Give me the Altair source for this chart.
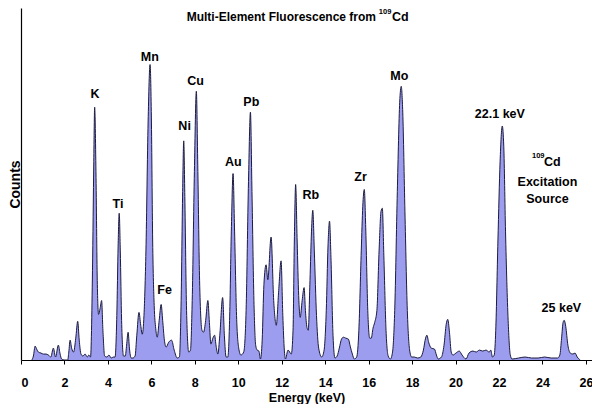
import altair as alt
import pandas as pd

# spectrum outline: energy (keV) and counts (arbitrary)
energy = [
    0.50, 0.57, 0.65, 0.72, 0.80, 0.92, 1.03, 1.15, 1.26, 1.37, 1.49, 1.59, 1.72, 1.80, 1.87, 1.98,
    2.15, 2.20, 2.26, 2.33, 2.42, 2.52, 2.61, 2.68, 2.76, 2.85, 2.95, 3.05, 3.12, 3.20,
    3.29, 3.35, 3.39, 3.45, 3.51, 3.57, 3.64, 3.71, 3.77, 3.85, 3.95, 4.05, 4.15, 4.25,
    4.33, 4.41, 4.47, 4.52, 4.57, 4.63, 4.72, 4.80, 4.86, 4.93, 4.99, 5.07, 5.15, 5.25,
    5.33, 5.43, 5.51, 5.58, 5.66, 5.75, 5.85, 5.94, 6.00, 6.06, 6.13, 6.20, 6.27, 6.36,
    6.45, 6.52, 6.60, 6.68, 6.80, 6.93, 7.05, 7.19,
    7.29, 7.37, 7.44, 7.49, 7.54, 7.62, 7.72, 7.80, 7.88, 7.98, 8.07, 8.14, 8.22, 8.33,
    8.40, 8.50, 8.60, 8.67, 8.74, 8.83, 8.91, 8.98, 9.06, 9.15, 9.28, 9.36, 9.44,
    9.52, 9.60, 9.68, 9.76, 9.83, 9.92, 10.02, 10.12, 10.25, 10.36, 10.47, 10.56, 10.63,
    10.72, 10.80, 10.87, 10.95, 11.02,
    11.10, 11.18, 11.28, 11.36, 11.51, 11.63, 11.75, 11.86, 11.97, 12.05, 12.12, 12.17,
    12.29, 12.44, 12.52, 12.58, 12.64, 12.71, 12.78, 12.85, 12.94, 13.03, 13.09, 13.16,
    13.22, 13.30, 13.37, 13.43, 13.50, 13.60, 13.70, 13.84, 13.95, 14.05, 14.13, 14.20,
    14.27, 14.36, 14.45, 14.55, 14.65, 14.75, 14.84, 14.95, 15.07, 15.15, 15.25, 15.34,
    15.45, 15.55, 15.66, 15.73, 15.80, 15.87, 15.96, 16.05, 16.12, 16.20, 16.28, 16.38,
    16.48, 16.57, 16.63, 16.70, 16.80, 16.90, 17.00, 17.10, 17.20, 17.32, 17.43, 17.50,
    17.57, 17.67, 17.78, 17.90, 17.98, 18.10, 18.25, 18.40, 18.52, 18.62, 18.68, 18.76,
    18.88, 19.03, 19.12, 19.20, 19.35, 19.47, 19.57, 19.64, 19.72, 19.80, 19.88, 20.02,
    20.17, 20.30, 20.48, 20.62, 20.80, 20.95, 21.10, 21.25, 21.40, 21.55, 21.62, 21.70,
    21.78, 21.85, 21.95, 22.05, 22.15, 22.22, 22.30, 22.42, 22.52, 22.60, 22.90, 23.20,
    23.50, 23.80, 24.10, 24.40, 24.70, 24.80, 24.88, 24.95, 25.00, 25.07, 25.17, 25.28,
    25.40, 25.50, 25.60, 25.74,
]
counts = [
    0, 4, 14, 11, 8, 7, 6, 6, 5, 3, 12, 3, 15, 6, 1, 0,
    0, 8, 20, 12, 8, 22, 39, 20, 6, 4, 6, 3, 5, 3,
    90, 200, 255, 190, 80, 46, 52, 60, 30, 4, 3, 5, 2, 3,
    3, 45, 115, 148, 110, 40, 4, 4, 15, 28, 12, 2, 2, 4,
    25, 48, 35, 26, 45, 110, 240, 298, 245, 120, 55, 32, 23, 40,
    56, 40, 20, 13, 18, 20, 10, 2,
    3, 60, 170, 221, 165, 50, 8, 10, 60, 190, 271, 190, 80, 30,
    28, 40, 60, 38, 16, 22, 25, 14, 6, 25, 63, 25, 3,
    3, 40, 130, 188, 130, 45, 12, 5, 8, 50, 180, 250, 170,
    60, 15, 10, 9, 1,
    20, 76, 96, 81, 124, 60, 35, 70, 100, 45, 10, 1,
    10, 6, 30, 120, 177, 120, 65, 43, 60, 73, 50, 33,
    30, 80, 130, 151, 110, 45, 12, 3, 10, 50, 115, 140,
    100, 25, 2, 4, 12, 21, 23, 22, 21, 14, 6, 1,
    3, 30, 110, 155, 172, 130, 50, 22, 22, 32, 38, 50,
    110, 150, 153, 105, 30, 4, 1, 8, 50, 170, 260, 276,
    250, 150, 50, 8, 3, 3, 2, 3, 10, 22, 25, 18,
    12, 11, 5, 1, 3, 15, 36, 41, 28, 8, 5, 7,
    9, 5, 1, 7, 9, 8, 10, 9, 10, 8, 10, 3,
    5, 30, 120, 200, 236, 215, 130, 40, 5, 1, 2, 3,
    2, 2, 3, 2, 2, 5, 22, 38, 40, 34, 15, 7,
    6, 7, 3, 0,
]

# peak labels (centred)
label_text = ["K", "Ti", "Mn", "Fe", "Ni", "Cu", "Au", "Pb", "Rb", "Zr", "Mo",
              "22.1 keV", "25 keV", "Excitation", "Source"]
label_energy = [3.41, 4.46, 5.93, 6.61, 7.53, 8.03, 9.77, 10.60, 13.34, 15.63, 17.41,
                22.04, 24.87, 24.23, 24.23]
label_counts = [268, 157, 306, 71, 236, 281, 200, 260, 166, 185, 286,
                248, 52, 180, 162]

# title and "109Cd" pieces
title_main = ["Multi-Element Fluorescence from"]
title_energy = [16.34]
title_counts = [346]
cd_text = ["Cd", "Cd"]
cd_energy = [17.07, 24.07]
cd_counts = [346, 200]
sup_text = ["109", "109"]
sup_energy = [16.47, 23.52]
sup_counts = [351, 206]

FONT = "Liberation Sans, Arial, sans-serif"

spec = pd.DataFrame({"energy": energy, "counts": counts})
labels = pd.DataFrame({"t": label_text, "e": label_energy, "c": label_counts})
title_df = pd.DataFrame({"t": title_main, "e": title_energy, "c": title_counts})
cd_df = pd.DataFrame({"t": cd_text, "e": cd_energy, "c": cd_counts})
sup_df = pd.DataFrame({"t": sup_text, "e": sup_energy, "c": sup_counts})

xscale = alt.Scale(domain=[0, 26.28], nice=False, zero=False)
yscale = alt.Scale(domain=[0, 355], nice=False)

area = (
    alt.Chart(spec)
    .mark_area(
        color="#9d9df0",
        opacity=1,
        interpolate="monotone",
        line={"color": "#1c1c40", "strokeWidth": 1},
    )
    .encode(
        x=alt.X(
            "energy:Q",
            scale=xscale,
            title="Energy (keV)",
            axis=alt.Axis(
                values=list(range(0, 27, 2)),
                format="d",
                grid=False,
                domainColor="black",
                domainWidth=1.2,
                tickColor="black",
                tickSize=4,
                labelFont=FONT,
                labelFontSize=12.5,
                labelFontWeight="bold",
                labelColor="black",
                labelBaseline="alphabetic",
                labelPadding=22,
                labelBound=False,
                titleFont=FONT,
                titleFontSize=12.5,
                titleFontWeight="bold",
                titleColor="black",
                titleBaseline="alphabetic",
                titleY=41,
            ),
        ),
        y=alt.Y(
            "counts:Q",
            scale=yscale,
            title="Counts",
            axis=alt.Axis(
                labels=False,
                ticks=False,
                grid=False,
                domainColor="black",
                domainWidth=1.2,
                titleFont=FONT,
                titleFontSize=14,
                titleFontWeight="bold",
                titleColor="black",
                titleAngle=270,
                titleBaseline="middle",
                titleAlign="center",
                titleX=-6,
                titleY=176,
            ),
        ),
    )
)

peak_labels = (
    alt.Chart(labels)
    .mark_text(font=FONT, fontSize=12.5, fontWeight="bold", color="black", baseline="middle")
    .encode(x=alt.X("e:Q", scale=xscale), y=alt.Y("c:Q", scale=yscale), text="t:N")
)

title = (
    alt.Chart(title_df)
    .mark_text(font=FONT, fontSize=12, fontWeight="bold", color="black",
               baseline="middle", align="right")
    .encode(x=alt.X("e:Q", scale=xscale), y=alt.Y("c:Q", scale=yscale), text="t:N")
)

cd = (
    alt.Chart(cd_df)
    .mark_text(font=FONT, fontSize=12.5, fontWeight="bold", color="black",
               baseline="middle", align="left")
    .encode(x=alt.X("e:Q", scale=xscale), y=alt.Y("c:Q", scale=yscale), text="t:N")
)

sup = (
    alt.Chart(sup_df)
    .mark_text(font=FONT, fontSize=7.5, fontWeight="bold", color="black",
               baseline="middle", align="left")
    .encode(x=alt.X("e:Q", scale=xscale), y=alt.Y("c:Q", scale=yscale), text="t:N")
)

chart = (
    alt.layer(area, peak_labels, title, cd, sup)
    .properties(
        width=571,
        height=352,
        autosize=alt.AutoSizeParams(type="none"),
        padding={"left": 13, "top": 0, "right": 0, "bottom": 44},
        background="white",
    )
    .configure_view(stroke=None)
)

chart.save("out.html", embed_options={"renderer": "svg", "actions": False})
